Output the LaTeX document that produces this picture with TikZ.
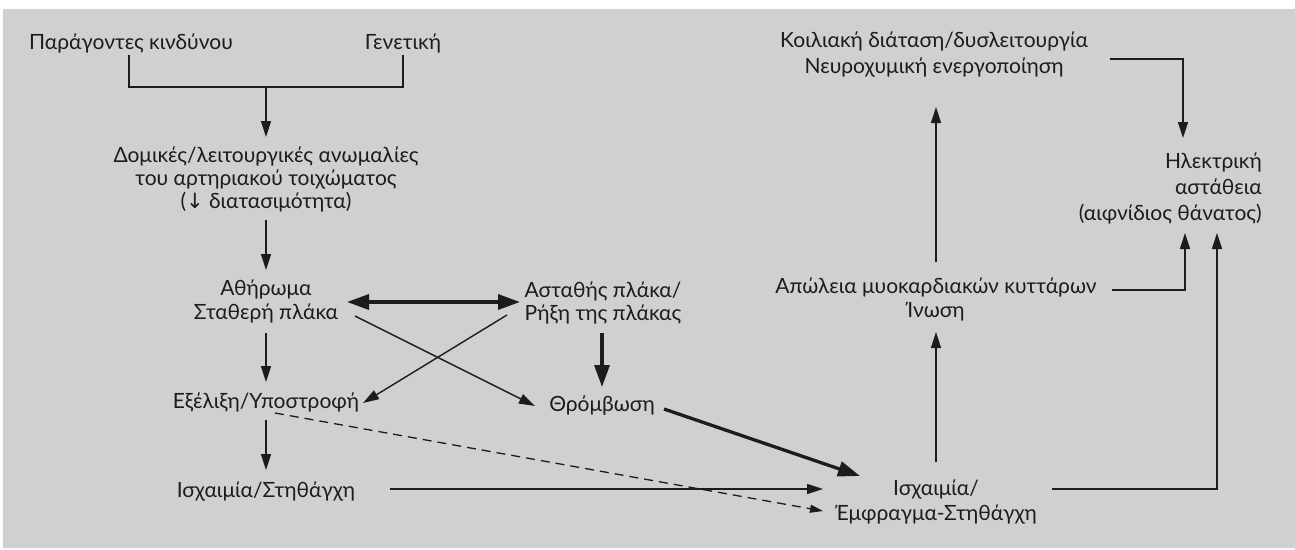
\documentclass[tikz,border=0pt]{standalone}
\usepackage{fontspec}
\setmainfont{Lato}
\newfontfamily\symfont{DejaVu Sans}
\usetikzlibrary{arrows.meta,calc}
\definecolor{bg}{RGB}{208,208,208}
\definecolor{ink}{RGB}{28,28,28}
\newcommand{\fs}[1]{\fontsize{21}{#1}\selectfont}
\newcommand{\ctab}[1]{\begin{tabular}[t]{@{}c@{}}#1\end{tabular}}
\newcommand{\rtab}[1]{\begin{tabular}[t]{@{}r@{}}#1\end{tabular}}
\tikzset{
  lbl/.style={inner xsep=6pt, inner ysep=0pt, font=\fs{24.5}, text=ink, anchor=base},
  ln/.style={draw=ink, line width=1.4pt},
  con/.style={ln, -{Triangle[length=16pt,width=10pt]}},
  bold/.style={draw=ink, line width=3.3pt, -{Triangle[length=22pt,width=15pt]}},
  boldd/.style={draw=ink, line width=3.3pt, {Triangle[length=22pt,width=15pt]}-{Triangle[length=22pt,width=15pt]}},
  dsh/.style={draw=ink, line width=1.3pt, dash pattern=on 9pt off 6pt, -{Triangle[length=13pt,width=8pt]}}
}
\begin{document}
\begin{tikzpicture}[x=1pt,y=-1pt]
\useasboundingbox (0,0) rectangle (1295,549);
\fill[bg] (3,9) rectangle (1295,548);

% nodes (placed by first baseline)
\node[lbl] (risk) at (131,49) {Παράγοντες κινδύνου};
\node[lbl] (gen) at (403,49) {Γενετική};
\node[lbl, font=\fs{23.3}] (dom) at (266,162) {\ctab{Δομικές/λειτουργικές ανωμαλίες\\του αρτηριακού τοιχώματος\\({\symfont ↓} διατασιμότητα)}};
\node[lbl, font=\fs{24}] (ath) at (266,295) {\ctab{Αθήρωμα\\Σταθερή πλάκα}};
\node[lbl, font=\fs{23.5}] (uns) at (603,297) {\ctab{Ασταθής πλάκα/\\Ρήξη της πλάκας}};
\node[lbl] (evo) at (266,408) {Εξέλιξη/Υποστροφή};
\node[lbl] (thr) at (602,411) {Θρόμβωση};
\node[lbl] (isc1) at (266,497) {Ισχαιμία/Στηθάγχη};
\node[lbl, font=\fs{25}] (isc2) at (936,495) {\ctab{Ισχαιμία/\\Έμφραγμα-Στηθάγχη}};
\node[lbl, font=\fs{24}] (loss) at (936,293) {\ctab{Απώλεια μυοκαρδιακών κυττάρων\\Ίνωση}};
\node[lbl, font=\fs{26}] (vent) at (934,47) {\ctab{Κοιλιακή διάταση/δυσλειτουργία\\Νευροχυμική ενεργοποίηση}};
\node[lbl, font=\fs{26}, anchor=base east] (elec) at (1268,168) {\rtab{Ηλεκτρική\\αστάθεια\\(αιφνίδιος θάνατος)}};

% connectors
\coordinate (jn) at (266,87);
\draw[ln] ($(risk.base)+(-2,6)$) |- (jn) -| ($(gen.base)+(0,6)$);
\draw[con] (jn) -- ($(dom.base)+(0,-25)$);
\draw[con] ($(dom.base)+(0,58)$) -- ($(ath.base)+(0,-25)$);
\draw[boldd] ($(ath.base)+(81,7)$) -- ($(uns.base)+(-83,5)$);
\draw[con] ($(ath.base)+(0,38)$) -- ($(evo.base)+(0,-26)$);
\draw[con] ($(ath.base)+(89,21)$) -- ($(thr.base)+(-67,-5)$);
\draw[con] ($(uns.base)+(-96,18)$) -- ($(evo.base)+(97,-5)$);
\draw[con] ($(evo.base)+(0,12)$) -- ($(isc1.base)+(0,-27)$);
\draw[bold] ($(uns.base)+(-1,36)$) -- ($(thr.base)+(0,-24)$);
\draw[bold] ($(thr.base)+(62,-2)$) -- ($(isc2.base)+(-76,-19)$);
\draw[con] ($(isc1.base)+(124,-8)$) -- ($(isc2.base)+(-113,-6)$);
\draw[dsh] ($(evo.base)+(9,5)$) -- ($(isc2.base)+(-113,16)$);
\draw[con] ($(isc2.base)+(0,-33)$) -- ($(loss.base)+(0,39)$);
\draw[con] ($(loss.base)+(0,-31)$) -- ($(vent.base)+(2,60)$);
\draw[con] ($(vent.base)+(176,12)$) -| ($(elec.base east)+(-85,-30)$);
\draw[con] ($(loss.base)+(176,-3)$) -| ($(elec.base east)+(-83,65)$);
\draw[con] ($(isc2.base)+(116,-6)$) -| ($(elec.base east)+(-51,65)$);
\end{tikzpicture}
\end{document}
